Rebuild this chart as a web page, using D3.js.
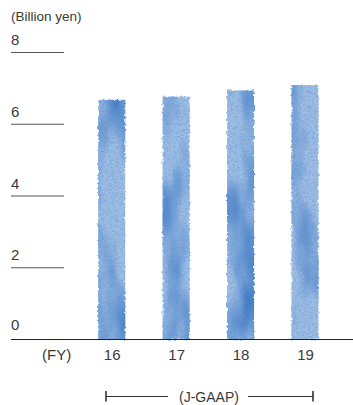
<!DOCTYPE html>
<html>
<head>
<meta charset="utf-8">
<script src="https://cdn.jsdelivr.net/npm/d3@7"></script>
<style>
  html, body { margin: 0; padding: 0; background: #fff; }
  svg { display: block; font-family: "Liberation Sans", Arial, sans-serif; }
</style>
</head>
<body>
<svg id="chart" width="353" height="405"></svg>
<script>
// Fiscal years and values (billion yen)
const years = ["16", "17", "18", "19"];
const values = [6.68, 6.77, 6.94, 7.09];
const yTicks = [0, 2, 4, 6, 8];
const unitLabel = "(Billion yen)";
const periodLabel = "(FY)";
const standardLabel = "(J-GAAP)";

const svg = d3.select("#chart");
const textColor = "#3a3a3a";

const y = d3.scaleLinear().domain([0, 8]).range([339.5, 52.5]);
const x = d3.scalePoint().domain(years).range([111.7, 305]);
const barW = 27;

// Watercolour look for the bars: mottled pigment plus ragged edges
const defs = svg.append("defs");
const f = defs.append("filter").attr("id", "wash")
  .attr("color-interpolation-filters", "sRGB")
  .attr("x", "-15%").attr("y", "-5%").attr("width", "130%").attr("height", "110%");
f.append("feTurbulence").attr("type", "fractalNoise")
  .attr("baseFrequency", "0.03 0.011").attr("numOctaves", 3).attr("seed", 7).attr("result", "blot");
f.append("feColorMatrix").attr("in", "blot").attr("type", "matrix")
  .attr("values", "0 0 0 0 0.27  0 0 0 0 0.49  0 0 0 0 0.77  2.6 0 0 0 -1.12")
  .attr("result", "dark");
f.append("feComposite").attr("in", "dark").attr("in2", "SourceGraphic").attr("operator", "in").attr("result", "darkIn");
f.append("feTurbulence").attr("type", "fractalNoise")
  .attr("baseFrequency", "0.55").attr("numOctaves", 2).attr("seed", 11).attr("result", "grain");
f.append("feColorMatrix").attr("in", "grain").attr("type", "matrix")
  .attr("values", "0 0 0 0 0.36  0 0 0 0 0.56  0 0 0 0 0.82  1.2 0 0 0 -0.5")
  .attr("result", "grainC");
f.append("feComposite").attr("in", "grainC").attr("in2", "SourceGraphic").attr("operator", "in").attr("result", "grainIn");
const m = f.append("feMerge").attr("result", "painted");
m.append("feMergeNode").attr("in", "SourceGraphic");
m.append("feMergeNode").attr("in", "darkIn");
m.append("feMergeNode").attr("in", "grainIn");
f.append("feTurbulence").attr("type", "fractalNoise")
  .attr("baseFrequency", "0.35").attr("numOctaves", 2).attr("seed", 3).attr("result", "edge");
f.append("feDisplacementMap").attr("in", "painted").attr("in2", "edge")
  .attr("scale", 3.2).attr("xChannelSelector", "R").attr("yChannelSelector", "G");

// Unit label
svg.append("text").attr("x", 11).attr("y", 21)
  .attr("font-size", 13.5).attr("fill", textColor).text(unitLabel);

// Y ticks: short rule with the value sitting above it
const tick = svg.append("g").selectAll("g").data(yTicks.filter(d => d > 0)).join("g");
tick.append("line")
  .attr("x1", 11).attr("x2", 64)
  .attr("y1", d => y(d)).attr("y2", d => y(d))
  .attr("stroke", "#555").attr("stroke-width", 1.1);
tick.append("text").attr("x", 11).attr("y", d => y(d) - 7.5)
  .attr("font-size", 15).attr("fill", textColor).text(d => d);

svg.append("text").attr("x", 11).attr("y", y(0) - 9.5)
  .attr("font-size", 15).attr("fill", textColor).text(0);

// Bars
svg.append("g").attr("filter", "url(#wash)")
  .selectAll("rect").data(values).join("rect")
  .attr("x", (d, i) => x(years[i]) - barW / 2)
  .attr("width", barW)
  .attr("y", d => y(d))
  .attr("height", d => y(0) - y(d))
  .attr("fill", "#9dbde3");

// Baseline
svg.append("line").attr("x1", 11).attr("x2", 353)
  .attr("y1", y(0)).attr("y2", y(0))
  .attr("stroke", "#222").attr("stroke-width", 1.2);

// X axis labels
const xAxis = d3.axisBottom(x).tickSize(0).tickPadding(0);
const gx = svg.append("g").attr("transform", "translate(0,349)").call(xAxis);
gx.select(".domain").remove();
gx.selectAll("text").attr("font-size", 15).attr("fill", textColor)
  .attr("font-family", "Liberation Sans, Arial, sans-serif")
  .attr("dy", "0.71em");
svg.append("text").attr("x", 56.7).attr("y", 360).attr("text-anchor", "middle")
  .attr("font-size", 15).attr("fill", textColor).text(periodLabel);

// Accounting standard bracket spanning the years
const bx0 = 106, bx1 = 313, by = 396.5;
const bracket = svg.append("g").attr("stroke", "#333");
bracket.append("line").attr("x1", bx0).attr("x2", 168).attr("y1", by).attr("y2", by).attr("stroke-width", 1);
bracket.append("line").attr("x1", 248).attr("x2", bx1).attr("y1", by).attr("y2", by).attr("stroke-width", 1);
bracket.append("line").attr("x1", bx0).attr("x2", bx0).attr("y1", by - 5.5).attr("y2", by + 5).attr("stroke-width", 1.6);
bracket.append("line").attr("x1", bx1).attr("x2", bx1).attr("y1", by - 5.5).attr("y2", by + 5).attr("stroke-width", 1.6);
svg.append("text").attr("x", 209).attr("y", by + 5).attr("text-anchor", "middle")
  .attr("font-size", 14).attr("fill", textColor).text(standardLabel);
</script>
</body>
</html>
